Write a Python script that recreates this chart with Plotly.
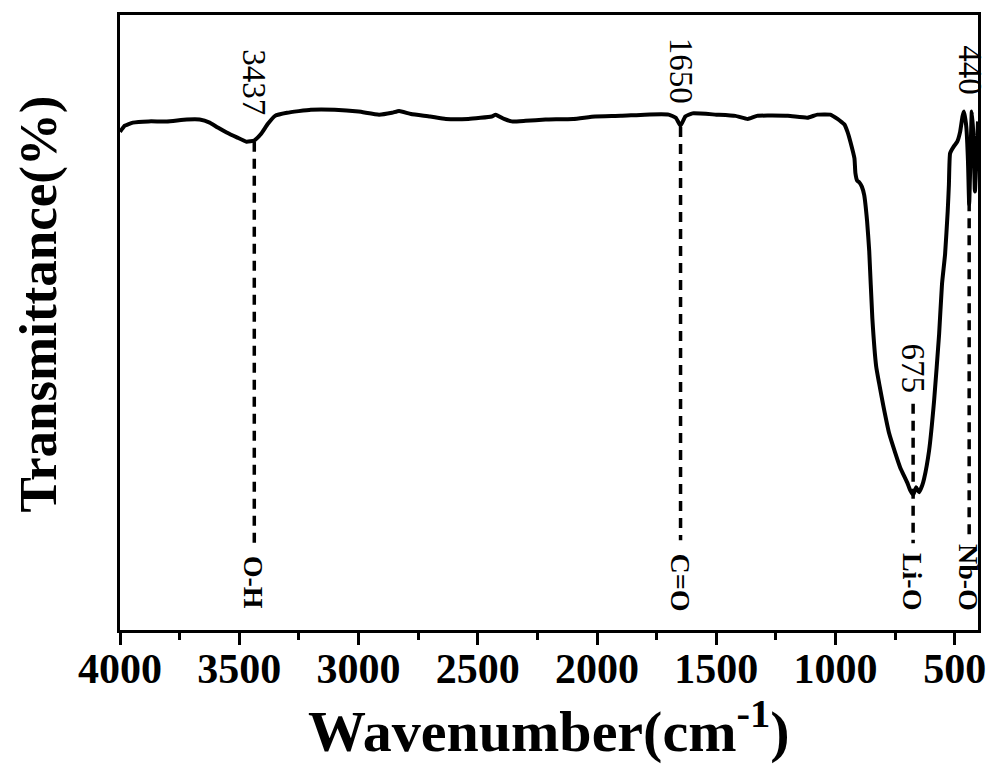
import plotly.graph_objects as go

# FTIR spectrum (wavenumber in cm^-1, transmittance in arbitrary %)
wavenumber = [
    4000, 3980, 3946, 3880, 3804, 3720, 3666, 3624, 3590, 3553, 3510, 3470,
    3437, 3410, 3380, 3350, 3300, 3200, 3100, 3000, 2914, 2860, 2830, 2780,
    2700, 2634, 2540, 2442, 2425, 2390, 2358, 2300, 2216, 2100, 2008, 1900,
    1800, 1700, 1670, 1650, 1630, 1600, 1500, 1420, 1368, 1330, 1200, 1118,
    1076, 1022, 992, 972, 963, 950, 938, 921, 917, 910, 901, 890, 880, 868,
    859, 846, 830, 817, 800, 775, 750, 729, 700, 687, 675, 662, 650, 637,
    629, 608, 587, 566, 554, 541, 530, 525, 520, 505, 490, 478, 468, 462,
    452, 445, 440, 435, 429, 422, 416, 408, 403,
]
transmittance = [
    81.0, 82.0, 82.5, 82.7, 82.7, 83.0, 83.0, 82.5, 81.7, 80.9, 80.1, 79.4,
    79.6, 80.6, 82.3, 83.6, 84.1, 84.6, 84.6, 84.3, 83.8, 84.1, 84.4, 83.9,
    83.5, 83.1, 83.1, 83.5, 83.8, 83.1, 82.7, 82.8, 83.0, 83.1, 83.5, 83.6,
    83.8, 83.8, 83.3, 82.0, 83.5, 84.0, 83.8, 83.6, 83.1, 83.6, 83.6, 83.3,
    83.8, 83.8, 83.1, 82.5, 82.2, 81.0, 79.4, 76.7, 74.3, 73.1, 72.8, 72.1,
    70.7, 66.5, 61.6, 50.7, 42.9, 40.0, 36.5, 31.9, 28.8, 26.4, 24.0, 22.7,
    22.0, 23.2, 22.4, 23.5, 24.6, 29.2, 37.3, 48.1, 56.2, 61.1, 68.1, 72.4,
    77.5, 78.6, 79.4, 81.0, 83.5, 84.3, 81.8, 76.2, 69.2, 76.2, 84.3, 80.2,
    71.3, 77.8, 82.7,
]

# Band assignments: position, peak label, bond label, dashed-line extent
band_pos = [3437, 1650, 675, 440]
band_num = ["3437", "1650", "675", "440"]
band_bond = ["O-H", "C=O", "Li-O", "Nb-O"]
band_line_top = [79.4, 81.8, 36.8, 69.7]
band_line_bottom = [13.8, 14.6, 14.1, 15.1]
num_label_y = [89.0, 91.0, 42.5, 91.0]
bond_label_y = [7.8, 7.8, 7.8, 8.6]

x_ticks = [4000, 3500, 3000, 2500, 2000, 1500, 1000, 500]

FONT = "Liberation Serif"

fig = go.Figure()
fig.add_trace(go.Scatter(
    x=wavenumber, y=transmittance, mode="lines",
    line=dict(color="black", width=4, shape="spline", smoothing=0.4),
    showlegend=False, hoverinfo="skip",
))

for pos, top, bot in zip(band_pos, band_line_top, band_line_bottom):
    fig.add_shape(type="line", x0=pos, x1=pos, y0=top, y1=bot,
                  xref="x", yref="y",
                  line=dict(color="black", width=3.5, dash="10px,7px"))

for pos, txt, yy in zip(band_pos, band_num, num_label_y):
    fig.add_annotation(x=pos, y=yy, xref="x", yref="y", text=txt,
                       textangle=90, showarrow=False,
                       font=dict(family=FONT, size=33, color="black"))

for pos, txt, yy in zip(band_pos, band_bond, bond_label_y):
    fig.add_annotation(x=pos, y=yy, xref="x", yref="y", text=f"<b>{txt}</b>",
                       textangle=90, showarrow=False,
                       font=dict(family=FONT, size=28, color="black"))

# Axis titles
fig.add_annotation(x=0.5, y=-0.158, xref="paper", yref="paper",
                   text="<b>Wavenumber(cm<sup>-1</sup>)</b>", showarrow=False,
                   xanchor="center", yanchor="middle",
                   font=dict(family=FONT, size=58, color="black"))
fig.add_annotation(x=-0.095, y=0.53, xref="paper", yref="paper",
                   text="<b>Transmittance(%)</b>", showarrow=False,
                   textangle=-90, xanchor="center", yanchor="middle",
                   font=dict(family=FONT, size=53, color="black"))

fig.update_xaxes(
    range=[4000, 403], tickvals=x_ticks,
    ticktext=[f"<b>{v}</b>" for v in x_ticks],
    ticks="outside", ticklen=12, tickwidth=3, tickcolor="black",
    ticklabelstandoff=-12,
    minor=dict(dtick=250, tick0=0, ticks="outside", ticklen=7,
               tickwidth=3, tickcolor="black"),
    showline=True, linecolor="black", linewidth=3, mirror=True,
    showgrid=False, zeroline=False,
    tickfont=dict(family=FONT, size=42, color="black"),
)
fig.update_yaxes(
    range=[0, 100], showticklabels=False, ticks="",
    showline=True, linecolor="black", linewidth=3, mirror=True,
    showgrid=False, zeroline=False,
)

fig.update_layout(
    width=998, height=769,
    margin=dict(l=120, r=17, t=13, b=139),
    plot_bgcolor="white", paper_bgcolor="white",
)

fig.write_html("out.html")
